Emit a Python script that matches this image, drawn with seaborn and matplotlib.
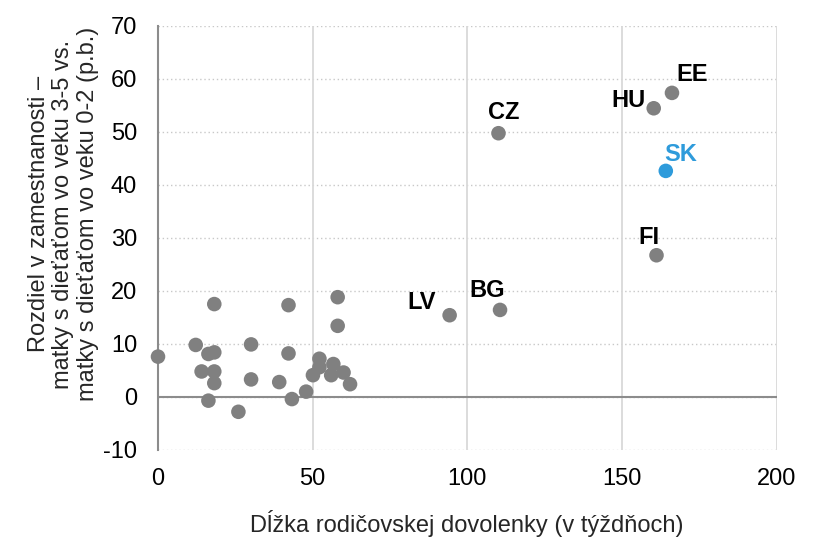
import matplotlib
matplotlib.use("Agg")
import matplotlib.pyplot as plt
import seaborn as sns
import pandas as pd

# Unlabelled countries (x: weeks of parental leave, y: employment gap p.b.)
other_x = [0, 18.2, 42.2, 58.1, 58.1, 12.2, 30.1, 16.3, 18.2, 42.2, 52.2, 52.2,
           56.7, 14.1, 18.2, 18.2, 30.1, 39.2, 50.1, 56.0, 60.0, 62.1, 47.9,
           16.3, 43.3, 26.0]
other_y = [7.6, 17.5, 17.3, 18.8, 13.4, 9.8, 9.9, 8.1, 8.4, 8.2, 7.2, 5.6,
           6.2, 4.8, 4.8, 2.6, 3.3, 2.8, 4.1, 4.1, 4.6, 2.4, 1.0,
           -0.7, -0.4, -2.8]

# Labelled countries
lab_names = ["CZ", "HU", "EE", "SK", "FI", "BG", "LV"]
lab_x = [110.1, 160.3, 166.2, 164.2, 161.2, 110.6, 94.3]
lab_y = [49.7, 54.4, 57.3, 42.6, 26.7, 16.4, 15.4]
lab_offsets = [(5, 21), (-25, 8), (20, 18), (15, 16), (-8, 18), (-13, 19), (-28, 13)]

x_ticks = [0, 50, 100, 150, 200]
y_ticks = [-10, 0, 10, 20, 30, 40, 50, 60, 70]

GREY = "#808080"
BLUE = "#2E9BDB"

sns.set_theme(style="white")
plt.rcParams["font.family"] = ["Liberation Sans", "DejaVu Sans"]
plt.rcParams["axes.unicode_minus"] = False

fig = plt.figure(figsize=(8.17, 5.41), dpi=100)
ax = fig.add_axes([158 / 817, 1 - 450 / 541, (776.5 - 158) / 817, (450 - 25.5) / 541])

names_all = ["other"] * len(other_x) + lab_names
df = pd.DataFrame({
    "x": other_x + lab_x,
    "y": other_y + lab_y,
    "grp": ["SK" if n == "SK" else "other" for n in names_all],
})

ax.set_xlim(0, 200)
ax.set_ylim(-10, 70)
ax.set_xticks(x_ticks)
ax.set_yticks(y_ticks)

# gridlines
for yt in y_ticks:
    ax.axhline(yt, color="#C8C8C8", lw=1.0, ls=(0, (1, 2)), zorder=0)
for xt in x_ticks[1:]:
    ax.axvline(xt, color="#D9D9D9", lw=1.3, zorder=0)
ax.axhline(0, color="#8C8C8C", lw=1.5, zorder=1)

sns.scatterplot(data=df, x="x", y="y", hue="grp",
                palette={"other": GREY, "SK": BLUE},
                s=110, edgecolor="none", legend=False, ax=ax, zorder=3, clip_on=False)

for n, x, y, off in zip(lab_names, lab_x, lab_y, lab_offsets):
    ax.annotate(n, (x, y), xytext=off, textcoords="offset pixels",
                ha="center", va="center", fontsize=17, fontweight="bold",
                color=BLUE if n == "SK" else "black")

for s in ["top", "right", "bottom"]:
    ax.spines[s].set_visible(False)
ax.spines["left"].set_color("#8C8C8C")
ax.spines["left"].set_linewidth(1.5)

ax.tick_params(axis="both", labelsize=17, colors="black", length=0)
ax.tick_params(axis="x", pad=13)
ax.tick_params(axis="y", pad=15)
ax.set_xlabel("Dĺžka rodičovskej dovolenky (v týždňoch)", fontsize=17, labelpad=14.5)
ax.set_ylabel("Rozdiel v zamestnanosti –\nmatky s dieťaťom vo veku 3-5 vs.\nmatky s dieťaťom vo veku 0-2 (p.b.)",
              fontsize=17, linespacing=1.15)
ax.yaxis.set_label_coords((99 - 158) / 618.5, (450 - 214) / 424.5)

fig.savefig("out.png", dpi=100)
